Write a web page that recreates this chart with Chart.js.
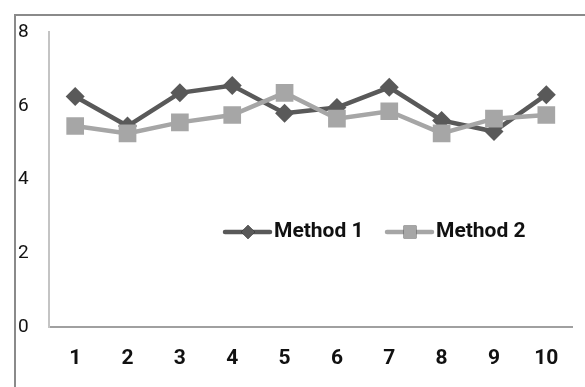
<!DOCTYPE html>
<html>
<head>
<meta charset="utf-8">
<script src="https://cdn.jsdelivr.net/npm/chart.js@4.4.1/dist/chart.umd.min.js"></script>
<style>
  html, body { margin: 0; padding: 0; background: #fff; }
  #wrap { position: relative; width: 585px; height: 387px; overflow: hidden; }
  #frame { position: absolute; left: 14px; top: 14px; width: 700px; height: 500px;
           border-top: 2px solid #8a8a8a; border-left: 2px solid #8a8a8a; box-sizing: border-box; }
  canvas { position: absolute; left: 0; top: 0; }
</style>
</head>
<body>
<div id="wrap">
  <div id="frame"></div>
  <canvas id="c" width="585" height="387"></canvas>
</div>
<script>
const categories = ['1', '2', '3', '4', '5', '6', '7', '8', '9', '10'];
const method1 = [6.25, 5.45, 6.35, 6.55, 5.8, 5.95, 6.5, 5.6, 5.3, 6.3];
const method2 = [5.45, 5.25, 5.55, 5.75, 6.35, 5.65, 5.85, 5.25, 5.65, 5.75];
const seriesNames = ['Method 1', 'Method 2'];
const yTicks = [0, 2, 4, 6, 8];

const FONT = "'Liberation Sans Narrow', 'Arial Narrow', 'Roboto', sans-serif";

const legendPlugin = {
  id: 'customLegend',
  afterDraw(chart) {
    const ctx = chart.ctx;
    const items = [
      { x: 225, y: 232 },
      { x: 387, y: 232 }
    ];
    chart.data.datasets.forEach((ds, i) => {
      const it = items[i];
      ctx.save();
      ctx.strokeStyle = ds.borderColor;
      ctx.lineWidth = 4.5;
      ctx.lineCap = 'round';
      ctx.beginPath();
      ctx.moveTo(it.x, it.y);
      ctx.lineTo(it.x + 45, it.y);
      ctx.stroke();
      Chart.helpers.drawPoint(ctx, {
        pointStyle: ds.pointStyle,
        radius: ds.pointStyle === 'rect' ? 9 : 7,
        rotation: 0,
        borderWidth: 0
      }, it.x + 23, it.y);
      ctx.fillStyle = ds.pointBackgroundColor;
      ctx.fill();
      ctx.fillStyle = '#111';
      ctx.font = "bold 21px " + FONT;
      ctx.textAlign = 'left';
      ctx.textBaseline = 'middle';
      ctx.fillText(ds.label, it.x + 49, it.y);
      ctx.restore();
    });
  }
};

new Chart(document.getElementById('c'), {
  type: 'line',
  data: {
    labels: categories,
    datasets: [
      {
        label: seriesNames[0],
        data: method1,
        borderColor: '#595959',
        backgroundColor: '#595959',
        pointBackgroundColor: '#595959',
        pointBorderColor: '#595959',
        pointStyle: 'rectRot',
        pointRadius: 9.5,
        pointBorderWidth: 0,
        borderWidth: 4.5,
        tension: 0,
        order: 1
      },
      {
        label: seriesNames[1],
        data: method2,
        borderColor: '#a6a6a6',
        backgroundColor: '#a6a6a6',
        pointBackgroundColor: '#a6a6a6',
        pointBorderColor: '#a6a6a6',
        pointStyle: 'rect',
        pointRadius: 12.5,
        pointBorderWidth: 0,
        borderWidth: 4.5,
        tension: 0,
        order: 0
      }
    ]
  },
  options: {
    responsive: false,
    animation: false,
    layout: { padding: { left: 18, right: 7, top: 32, bottom: 0 } },
    plugins: {
      legend: { display: false },
      tooltip: { enabled: false }
    },
    scales: {
      x: {
        offset: true,
        grid: { display: false, drawTicks: false },
        border: { display: true, color: '#a0a0a0', width: 2 },
        ticks: {
          color: '#111',
          padding: 19,
          font: { family: FONT, size: 21, weight: 'bold' },
          maxRotation: 0
        },
        afterFit(s) { s.height = 60; }
      },
      y: {
        min: 0,
        max: 8,
        afterBuildTicks(s) { s.ticks = yTicks.map(v => ({ value: v })); },
        grid: { display: false, drawTicks: false },
        border: { display: true, color: '#c4c4c4', width: 2 },
        ticks: {
          color: '#111',
          crossAlign: 'far',
          font: { family: FONT, size: 19 }
        },
        afterFit(s) { s.width = 31; }
      }
    }
  },
  plugins: [legendPlugin]
});
</script>
</body>
</html>
